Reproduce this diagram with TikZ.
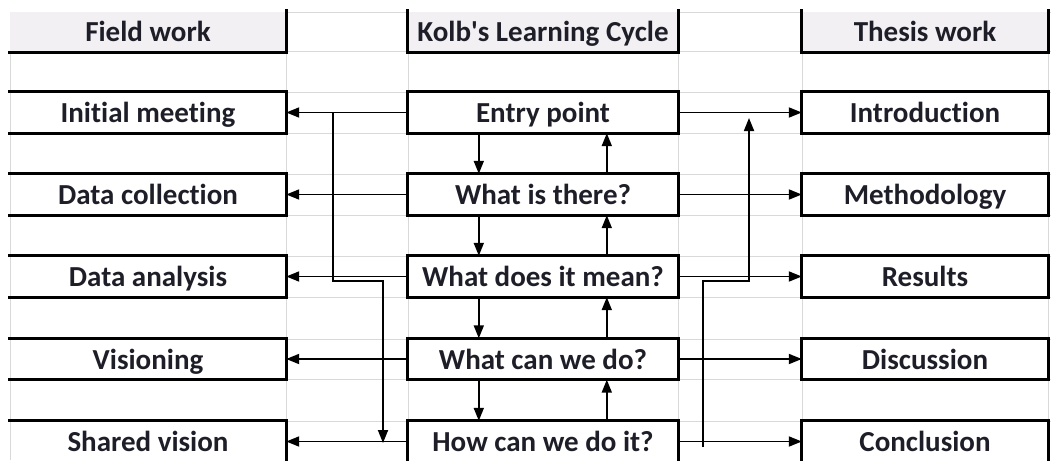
\documentclass[tikz,border=0pt]{standalone}
\usepackage{fontspec}
\setmainfont{Carlito}[Ligatures=NoCommon]
\usetikzlibrary{arrows.meta}
\definecolor{gridgray}{HTML}{D9D9D9}
\definecolor{headfill}{HTML}{F3F0F4}
\definecolor{txt}{HTML}{1E1E28}
\begin{document}
\begin{tikzpicture}[x=1pt,y=-1pt,
  cellbox/.style={inner sep=0pt, minimum height=41pt, text=txt,
    text height=20pt, text depth=0pt,
    font=\fontsize{29}{29}\selectfont\bfseries},
  colA/.style={cellbox, minimum width=276pt},
  colC/.style={cellbox, minimum width=270pt},
  colE/.style={cellbox, minimum width=246pt},
  border/.style={line width=3pt, line cap=rect},
  arr/.style={line width=1.8pt, -{Triangle[length=13pt,width=10pt]}},
  grid/.style={gridgray, line width=0.8pt}]
\useasboundingbox (0,0) rectangle (1051,460);
\clip (0,0) rectangle (1051,460);
% spreadsheet grid
\foreach \y in {12,51,92,133,174,215,256,297,339,379,421}
  \draw[grid] (10,\y) -- (1051,\y);
\foreach \x in {10,286,408,678,802,1048}
  \draw[grid] (\x,12) -- (\x,460);
% headers
\fill[headfill] (10,12) rectangle (286,51);
\fill[headfill] (408,12) rectangle (678,51);
\fill[headfill] (802,12) rectangle (1048,51);
\node[colA] (hA) at (148,31.5) {Field work};
\node[colC] (hC) at (543,31.5) {Kolb\textquotesingle s Learning Cycle};
\node[colE] (hE) at (925,31.5) {Thesis work};
\draw[border] (hA.north east) -- (hA.south east) -- (hA.south west);
\draw[border] (hC.north west) -- (hC.south west) -- (hC.south east) -- (hC.north east);
\draw[border] (hE.north west) -- (hE.south west) -- (hE.south east) -- (hE.north east);
% left column
\node[colA] (im) at (148,112.5) {Initial meeting};
\node[colA] (dc) at (148,194.5) {Data collection};
\node[colA] (da) at (148,276.5) {Data analysis};
\node[colA] (vi) at (148,359) {Visioning};
\node[colA] (sv) at (148,441.5) {Shared vision};
\foreach \n in {im,dc,da,vi,sv}
  \draw[border] (\n.north west) -- (\n.north east) -- (\n.south east) -- (\n.south west);
% centre column
\node[colC] (ep) at (543,112.5) {Entry point};
\node[colC] (wt) at (543,194.5) {What is there?};
\node[colC] (wm) at (543,276.5) {What does it mean?};
\node[colC] (wd) at (543,359) {What can we do?};
\node[colC] (hw) at (543,441.5) {How can we do it?};
\foreach \n in {ep,wt,wm,wd,hw}
  \draw[border] (\n.north west) rectangle (\n.south east);
% right column
\node[colE] (in) at (925,112.5) {Introduction};
\node[colE] (me) at (925,194.5) {Methodology};
\node[colE] (re) at (925,276.5) {Results};
\node[colE] (di) at (925,359) {Discussion};
\node[colE] (co) at (925,441.5) {Conclusion};
\foreach \n in {in,me,re,di,co}
  \draw[border] (\n.north west) rectangle (\n.south east);
% horizontal arrows
\draw[arr] (ep.west) -- (im.east);
\draw[arr] (wt.west) -- (dc.east);
\draw[arr] (wm.west) -- (da.east);
\draw[arr] (wd.west) -- (vi.east);
\draw[arr] (hw.west) -- (sv.east);
\draw[arr] (ep.east) -- (in.west);
\draw[arr] (wt.east) -- (me.west);
\draw[arr] (wm.east) -- (re.west);
\draw[arr] (wd.east) -- (di.west);
\draw[arr] (hw.east) -- (co.west);
% cycle arrows
\draw[arr] ([xshift=71pt]ep.south west) -- ([xshift=71pt]wt.north west);
\draw[arr] ([xshift=71pt]wt.south west) -- ([xshift=71pt]wm.north west);
\draw[arr] ([xshift=71pt]wm.south west) -- ([xshift=71pt]wd.north west);
\draw[arr] ([xshift=71pt]wd.south west) -- ([xshift=71pt]hw.north west);
\draw[arr] ([xshift=199pt]wt.north west) -- ([xshift=199pt]ep.south west);
\draw[arr] ([xshift=199pt]wm.north west) -- ([xshift=199pt]wt.south west);
\draw[arr] ([xshift=199pt]wd.north west) -- ([xshift=199pt]wm.south west);
\draw[arr] ([xshift=199pt]hw.north west) -- ([xshift=199pt]wd.south west);
% long connectors
\coordinate (lA) at (333,112.5);
\coordinate (lB) at (383,443);
\draw[arr] (lA) -- (333,281) -- (383,281) -- (lB);
\coordinate (rA) at (703,447);
\coordinate (rB) at (749,118);
\draw[arr] (rA) -- (703,281) -- (749,281) -- (rB);
\end{tikzpicture}
\end{document}
